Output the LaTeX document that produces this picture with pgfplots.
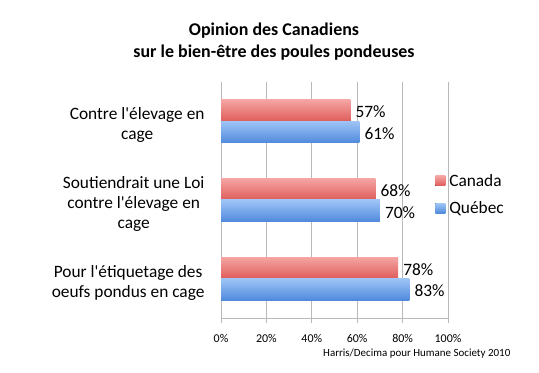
\documentclass[border=0pt]{standalone}
\usepackage{pgfplots}
\pgfplotsset{compat=1.18}
\usepackage{fontspec}
\setmainfont{Carlito}[Ligatures=TeXOff]
\definecolor{gridgray}{RGB}{185,185,185}
\definecolor{redtop}{RGB}{245,165,163}
\definecolor{redbot}{RGB}{222,92,90}
\definecolor{bluetop}{RGB}{158,196,246}
\definecolor{bluebot}{RGB}{80,138,220}
\begin{document}
\begin{tikzpicture}
\path[use as bounding box] (0,0) rectangle (539bp,373bp);
\begin{axis}[
  at={(221bp,55bp)}, anchor=south west,
  scale only axis, width=227bp, height=236bp,
  xmin=0, xmax=100, ymin=-0.5, ymax=2.5,
  xbar, bar width=21.5bp,
  axis x line*=bottom, axis y line*=left,
  axis line style={gridgray, line width=0.8pt},
  xmajorgrids, grid style={gridgray, line width=0.8pt},
  xtick={0,20,40,60,80,100},
  xticklabel={\pgfmathprintnumber{\tick}\%},
  /pgf/number format/assume math mode=true,
  xticklabel style={font=\fontsize{12}{14}\selectfont, yshift=-8bp},
  tick align=outside,
  major tick length=5bp,
  tick style={gridgray, line width=0.8pt},
  ytick={0,1,2},
  yticklabels={{Pour l'étiquetage des\\oeufs pondus en cage},{Soutiendrait une Loi\\contre l'élevage en\\cage},{Contre l'élevage en\\cage}},
  yticklabel style={align=center, font=\fontsize{17.4}{20}\selectfont, xshift=-8bp, yshift=-4bp},
  ytick style={draw=none},
  minor ytick={-0.5,0.5,1.5,2.5},
  minor y tick style={gridgray, line width=0.8pt},
  minor tick length=6bp,
  nodes near coords={\pgfmathprintnumber{\pgfplotspointmeta}\%},
  nodes near coords style={font=\fontsize{17.4}{19}\selectfont, anchor=west, inner sep=0pt, xshift=5bp, yshift=-1.5bp, black},
  point meta=x,
  legend style={draw=none, fill=none, at={(0.93,0.523)}, anchor=west,
    font=\fontsize{17.4}{19}\selectfont, row sep=10bp},
  legend cell align=left,
  legend image code/.code={\path (0bp,0bp) -- (12bp,0bp); \fill[#1] (0bp,-5bp) rectangle (10bp,5bp);},
]
\addplot[draw=none, top color=redtop, bottom color=redbot, bar shift=10.75bp]
  coordinates {(57,2)};
\addlegendentry{Canada}
\addplot[draw=none, top color=bluetop, bottom color=bluebot, bar shift=-10.75bp]
  coordinates {(61,2)};
\addlegendentry{Québec}
\addplot[forget plot, draw=none, top color=redtop, bottom color=redbot, bar shift=10.75bp]
  coordinates {(68,1)};
\addplot[forget plot, draw=none, top color=bluetop, bottom color=bluebot, bar shift=-10.75bp]
  coordinates {(70,1)};
\addplot[forget plot, draw=none, top color=redtop, bottom color=redbot, bar shift=10.75bp]
  coordinates {(78,0)};
\addplot[forget plot, draw=none, top color=bluetop, bottom color=bluebot, bar shift=-10.75bp]
  coordinates {(83,0)};
\end{axis}
\node[align=center, font=\bfseries\fontsize{18}{22}\selectfont] at (274bp,331bp)
  {Opinion des Canadiens\\sur le bien-être des poules pondeuses};
\node[anchor=west, font=\fontsize{11}{12}\selectfont, inner sep=0pt] at (323bp,19bp)
  {Harris/Decima pour Humane Society 2010};
\end{tikzpicture}
\end{document}
